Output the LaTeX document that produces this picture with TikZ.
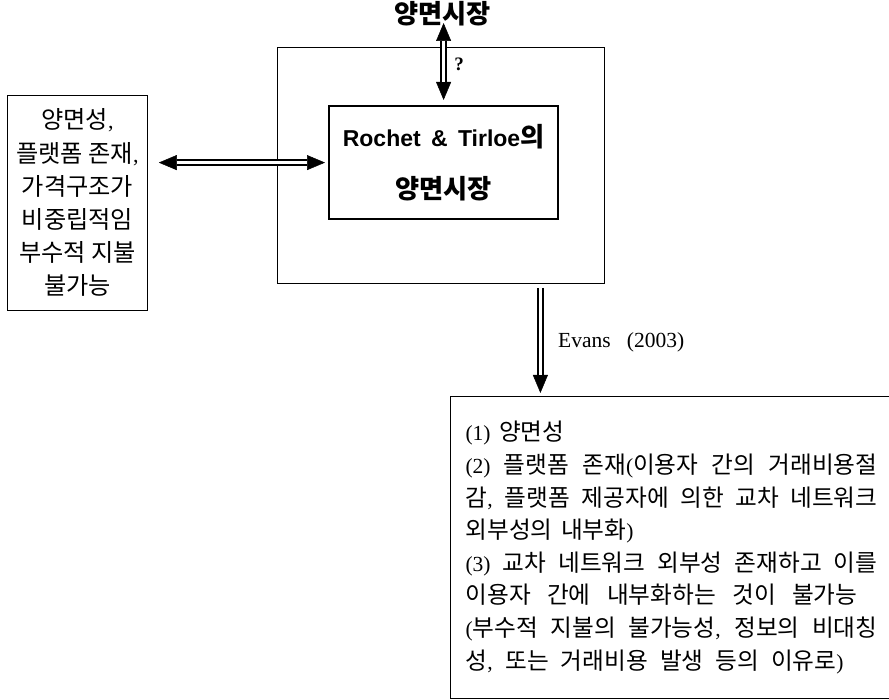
\documentclass[tikz,border=0pt]{standalone}
\usepackage{fontspec}
\usetikzlibrary{arrows.meta}
\setmainfont{Liberation Serif}
\newfontfamily\kr[Scale=1.1]{Noto Sans CJK KR}
\newfontfamily\krb[Scale=1.14]{Noto Sans CJK KR}
\newfontfamily\lsans{Liberation Sans}
\newcommand\K[1]{{\kr #1}}
\newcommand\KB[1]{{\krb\bfseries #1}}
% one line of the list, its word spaces stretched to the given width
\newcommand\jline[2][412pt]{\leavevmode\hbox to #1{\spaceskip=0.4em plus 1fil minus 0.2em\relax #2}}

\tikzset{
  thinbox/.style={draw, line width=0.8pt, inner sep=0pt, anchor=north west},
  shaft/.style={double, double distance=3pt, line width=1.8pt},
  tipend/.style={line width=0.5pt, -{Triangle[length=18pt,width=15pt]}},
  tipboth/.style={line width=0.5pt, {Triangle[length=18pt,width=15pt]}-{Triangle[length=18pt,width=15pt]}},
  boldlabel/.style={font=\fontsize{23}{50}\selectfont\bfseries}
}

\begin{document}
\begin{tikzpicture}[x=1pt,y=-1pt]
\useasboundingbox (0,0) rectangle (889,700);

% frame of the two-sided market
\node[thinbox, minimum width=327pt, minimum height=236pt] (outer) at (277,47) {};

% inner box: Rochet & Tirole
\node[draw, line width=2.2pt, inner sep=0pt, anchor=north west,
      minimum width=229pt, minimum height=113pt, align=center, boldlabel] (inner) at (328,105)
  {{\lsans\bfseries Rochet\hspace{0.45em}\&\hspace{0.45em}Tirloe}\KB{의}\\[2pt]\KB{양면시장}};

% heading
\node[boldlabel, inner sep=0pt] (title) at (442.5,14) {\KB{양면시장}};
\node[font=\fontsize{19}{19}\selectfont\bfseries, inner sep=0pt] (q) at (459,64) {?};

% left box: conditions
\node[thinbox, minimum width=140pt, minimum height=215pt, align=center,
      font=\fontsize{22}{33.2}\selectfont] (lb) at (7,95)
  {\K{양면성},\\\K{플랫폼 존재},\\\K{가격구조가}\\\K{비중립적임}\\\K{부수적 지불}\\\K{불가능}};

% bottom box: Evans (2003)
\node[draw, line width=1pt, anchor=north west, inner xsep=15pt, inner ysep=0pt,
      minimum height=302pt, text width=412pt, align=left,
      font=\fontsize{21.5}{32.6}\selectfont] (eb) at (450,396)
  {\spaceskip=0.4em\relax (1) \K{양면성}\\
   \jline{(2) \K{플랫폼 존재}(\K{이용자 간의 거래비용절}}\\
   \jline{\K{감}, \K{플랫폼 제공자에 의한 교차 네트워크}}\\
   \spaceskip=0.4em\relax \K{외부성의 내부화})\\
   \jline{(3) \K{교차 네트워크 외부성 존재하고 이를}}\\
   \jline[392pt]{\K{이용자 간에 내부화하는 것이 불가능}}\\
   \jline{(\K{부수적 지불의 불가능성}, \K{정보의 비대칭}}\\
   \jline[378pt]{\K{성}, \K{또는 거래비용 발생 등의 이유로})}};

% connectors
\coordinate (ltop) at (inner.north |- title.center);
\draw[tipboth, shorten <=5pt, shorten >=9pt] (inner.north) -- (ltop);
\draw[shaft, shorten <=23pt, shorten >=27pt] (inner.north) -- (ltop);

\coordinate (lstart) at (lb.east |- inner.west);
\draw[tipboth, shorten <=11pt, shorten >=3pt] (lstart) -- (inner.west);
\draw[shaft, shorten <=29pt, shorten >=21pt] (lstart) -- (inner.west);

\coordinate (dtop) at ([xshift=99.5pt]outer.south);
\coordinate (dbot) at (dtop |- eb.north);
\draw[tipend, shorten <=4pt, shorten >=3pt] (dtop) -- (dbot);
\draw[shaft, shorten <=4pt, shorten >=21pt] (dtop) -- (dbot);
\node[anchor=west, inner sep=0pt, font=\fontsize{21.5}{21.5}\selectfont] (ev) at (558,342) {Evans\hspace{0.5em} (2003)};

\end{tikzpicture}
\end{document}
